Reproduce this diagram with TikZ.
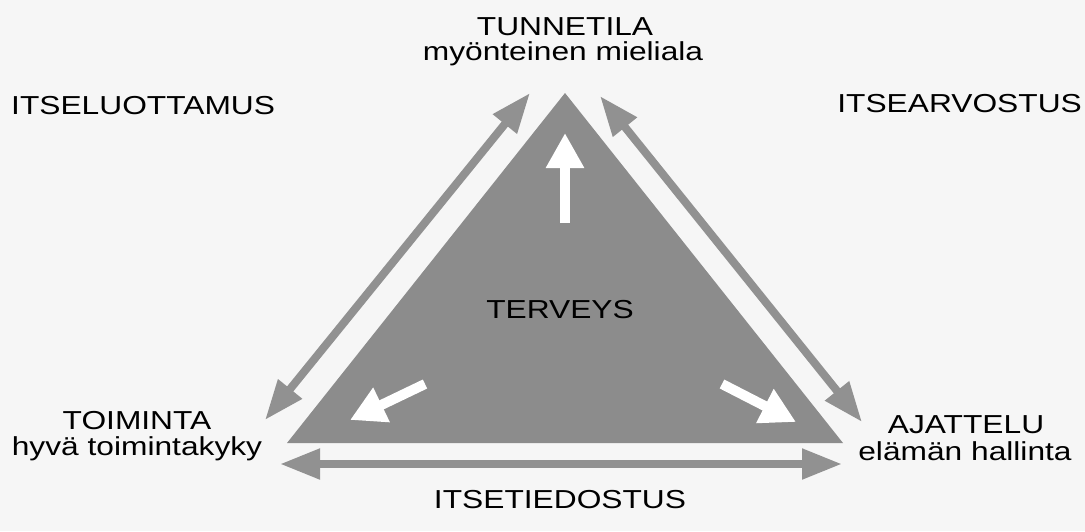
\documentclass[tikz,border=0pt]{standalone}
\usepackage{fontspec}
\setmainfont{Liberation Sans}[FakeStretch=1.22]
\usetikzlibrary{arrows.meta}
\definecolor{bg}{RGB}{246,246,246}
\definecolor{tri}{RGB}{140,140,140}
\definecolor{arr}{RGB}{145,145,145}
\tikzset{
  lbl/.style={anchor=base, inner sep=0pt, font=\fontsize{26}{30}\selectfont, text=black},
  grayarrow/.style={draw=arr, line width=8pt, {Triangle[width=29pt,length=40pt]}-{Triangle[width=29pt,length=40pt]}},
  whitearrow/.style={draw=white, line width=10pt, -{Triangle[width=36pt,length=35pt]}}
}
\begin{document}
\begin{tikzpicture}[x=1pt,y=-1pt]
\fill[bg] (0,0) rectangle (1085,531);
\useasboundingbox (0,0) rectangle (1085,531);
% triangle
\coordinate (apex) at (565,93);
\coordinate (bl) at (287,443);
\coordinate (br) at (843,443);
\fill[tri] (apex) -- (bl) -- (br) -- cycle;
% gray double arrows
\coordinate (l1) at (265,420);
\coordinate (l2) at (530,93);
\coordinate (r1) at (600,96);
\coordinate (r2) at (862,422);
\coordinate (b1) at (280,464);
\coordinate (b2) at (842,464);
\draw[grayarrow] (l1) -- (l2);
\draw[grayarrow] (r1) -- (r2);
\draw[grayarrow] (b1) -- (b2);
% white arrows
\coordinate (u1) at (565,223);
\coordinate (u2) at (565,133);
\coordinate (wl1) at (425,384);
\coordinate (wl2) at (350,420);
\coordinate (wr1) at (722,384);
\coordinate (wr2) at (796,422);
\draw[whitearrow] (u1) -- (u2);
\draw[whitearrow] (wl1) -- (wl2);
\draw[whitearrow] (wr1) -- (wr2);
% labels
\node[lbl] (tun) at (565,35) {TUNNETILA};
\node[lbl] (tun2) at (563,60) {myönteinen mieliala};
\node[lbl, anchor=base west] (itl) at (11,114) {ITSELUOTTAMUS};
\node[lbl, anchor=base east] (itr) at (1082,112) {ITSEARVOSTUS};
\node[lbl] (toi) at (137,429) {TOIMINTA};
\node[lbl] (toi2) at (137,455) {hyvä toimintakyky};
\node[lbl] (aja) at (966,433) {AJATTELU};
\node[lbl] (aja2) at (965,460) {elämän hallinta};
\node[lbl] (its) at (560,508) {ITSETIEDOSTUS};
\node[lbl] (ter) at (560,318) {TERVEYS};
\end{tikzpicture}
\end{document}
